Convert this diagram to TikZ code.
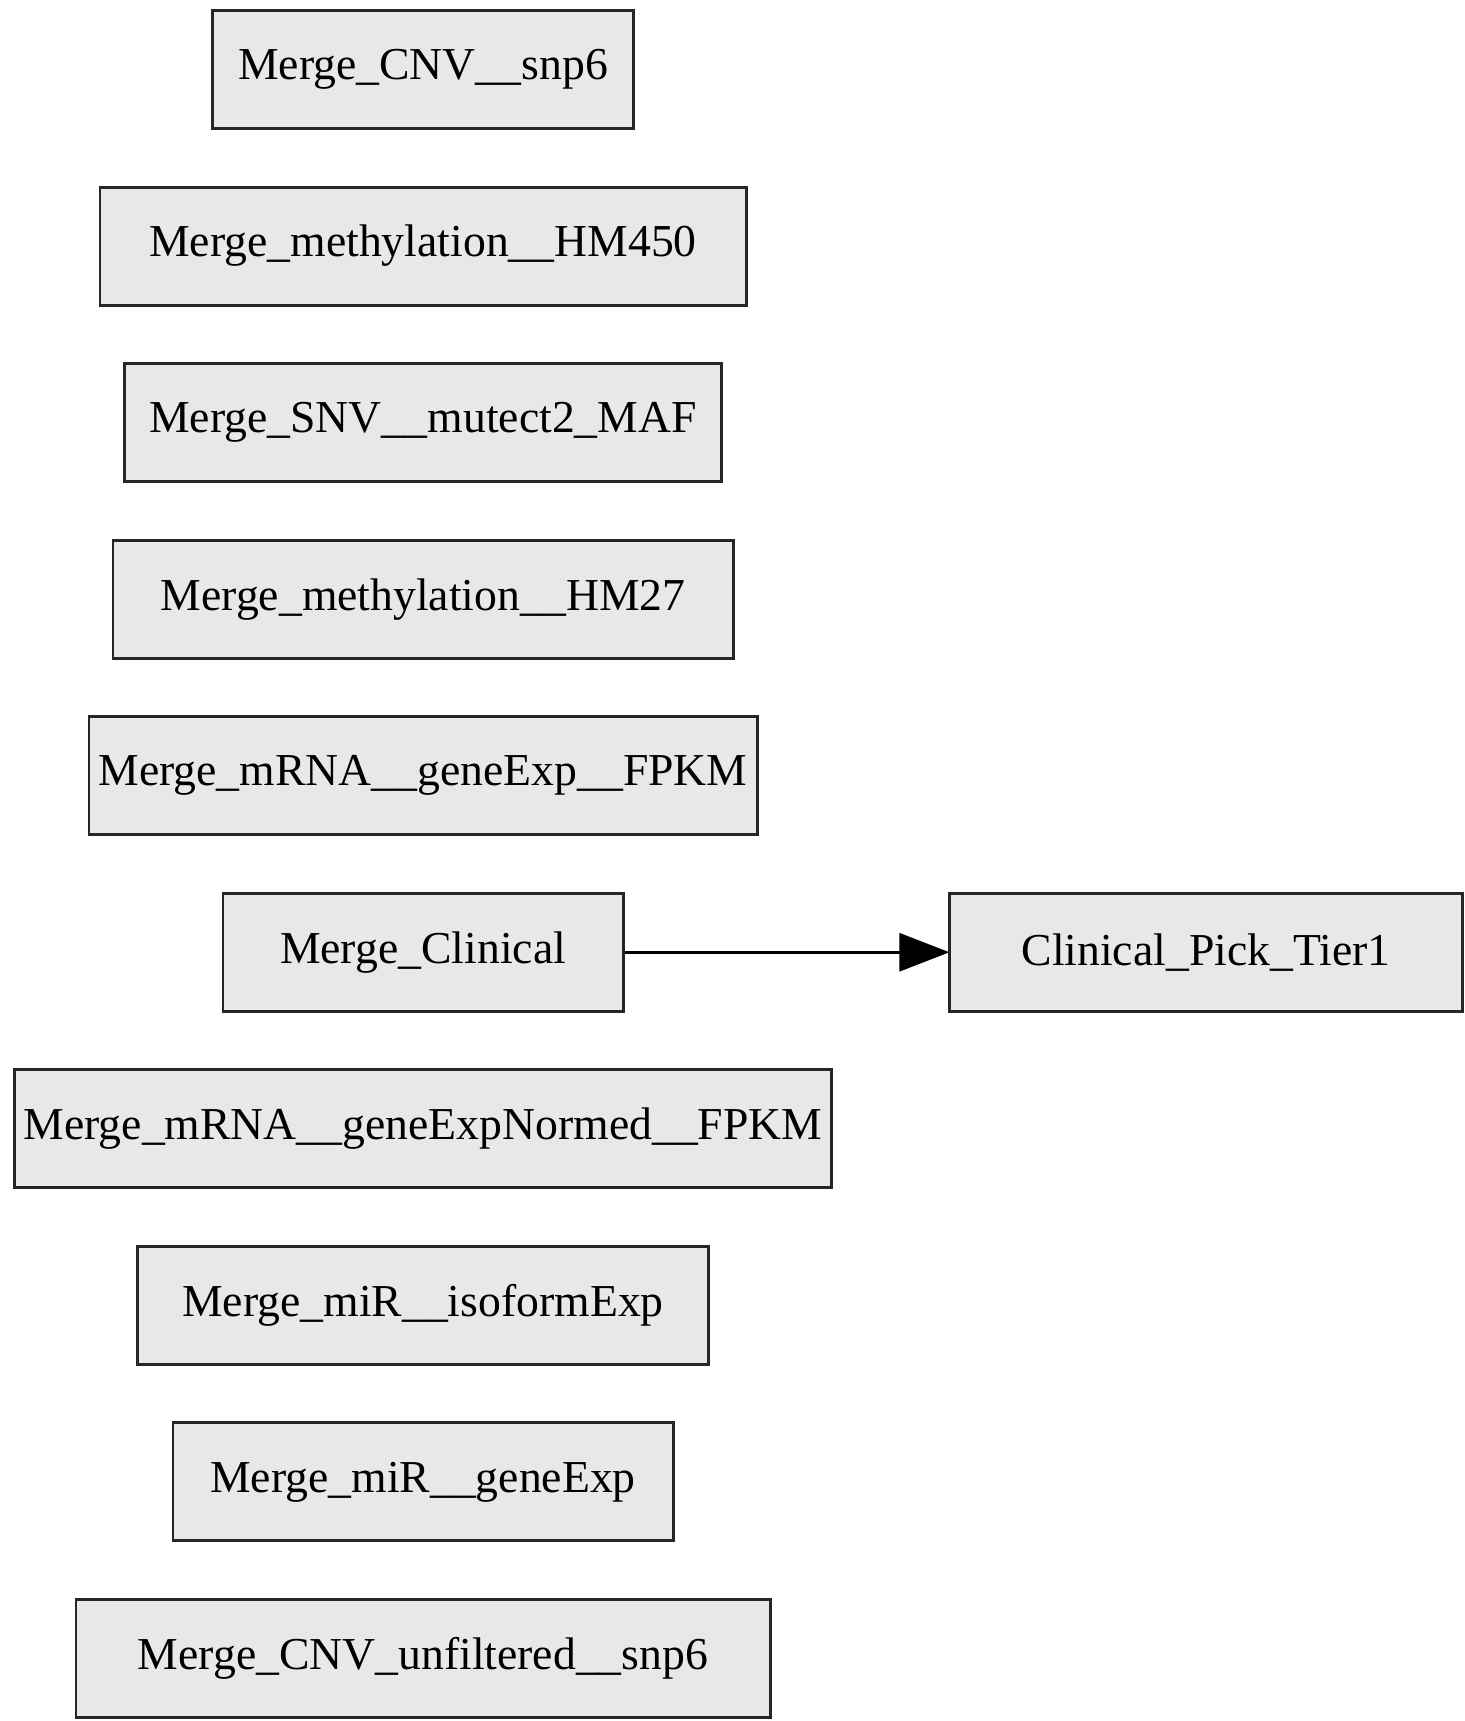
\documentclass[tikz,border=0pt]{standalone}
\usepackage{fontspec}
\setmainfont{Liberation Serif}
\usepackage{tikz}
\usetikzlibrary{arrows.meta}
\definecolor{boxgray}{HTML}{E8E8E8}
\tikzstyle{merge} = [rectangle, minimum height=1.18cm, inner sep=0pt, draw = black!85, line width=0.85pt, fill=boxgray, font=\fontsize{13}{15.6}\selectfont]
\tikzstyle{arrow} = [-{Triangle[length=0.5cm,width=0.38cm]}, draw=black, line width=0.8pt, shorten >=-0.4pt]

\begin{document}
\begin{tikzpicture}[node distance = 1.7655cm]
			\useasboundingbox (0,0) rectangle (14.64,-17.21);

			%--Merge Stages--%
			\node(cnv)[merge,minimum width=4.21cm] at (4.23,-0.695){Merge\_CNV\_\_snp6};
			\node(hm450)[merge,minimum width=6.46cm,below of=cnv]{Merge\_methylation\_\_HM450};
			\node(snv)[merge,minimum width=5.97cm,below of=hm450]{Merge\_SNV\_\_mutect2\_MAF};
			\node(hm27)[merge,minimum width=6.20cm,below of=snv]{Merge\_methylation\_\_HM27};
			\node(fpkm)[merge,minimum width=6.68cm,below of=hm27]{Merge\_mRNA\_\_geneExp\_\_FPKM};
			\node(clin)[merge,minimum width=4.00cm,below of=fpkm]{Merge\_Clinical};
			\node(normed)[merge,minimum width=8.17cm,below of=clin]{Merge\_mRNA\_\_geneExpNormed\_\_FPKM};
			\node(iso)[merge,minimum width=5.71cm,below of=normed]{Merge\_miR\_\_isoformExp};
			\node(mir)[merge,minimum width=5.00cm,below of=iso]{Merge\_miR\_\_geneExp};
			\node(unfilt)[merge,minimum width=6.94cm,below of=mir]{Merge\_CNV\_unfiltered\_\_snp6};

			%--Pick Stage--%
			\node(tier1)[merge,minimum width=5.13cm,right of=clin,node distance=7.83cm]{Clinical\_Pick\_Tier1};

			%--Edges--%
			\draw[arrow] (clin) -- (tier1);
		\end{tikzpicture}
\end{document}
